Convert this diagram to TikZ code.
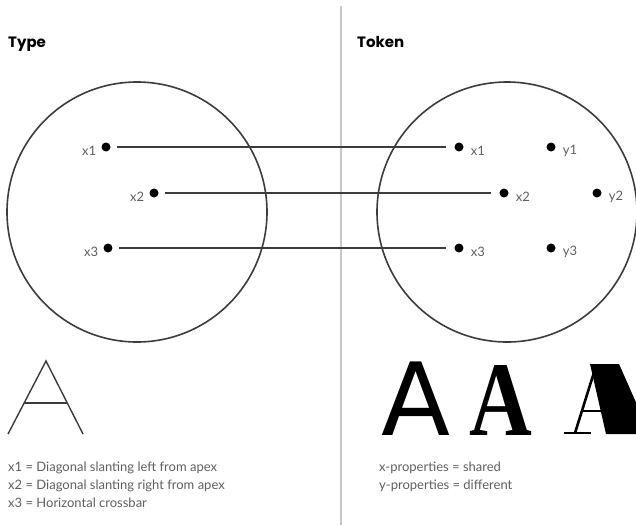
\documentclass[tikz,border=0pt]{standalone}
\usepackage{fontspec}
\setmainfont{Lato}
\newfontfamily\headfont{Poppins}
\newfontfamily\sansglyph{DejaVu Sans}
\newfontfamily\serifglyph{Liberation Serif}
\usepackage{tikz}
\usetikzlibrary{positioning}
\definecolor{mydark}{RGB}{60,60,60}
\definecolor{mygrey}{RGB}{95,95,95}
\definecolor{myrule}{RGB}{200,200,200}
\tikzset{
  setcircle/.style={draw=mydark, line width=1.6pt},
  dot/.style={circle, fill=black, inner sep=0pt, minimum size=9pt},
  lbl/.style={text=mygrey, font=\fontsize{13}{15}\selectfont, inner sep=0pt},
  link/.style={draw=mydark, line width=1.7pt, shorten <=6pt, shorten >=8pt},
  heading/.style={font=\headfont\bfseries\fontsize{15}{17}\selectfont, anchor=base west, inner sep=0pt},
  note/.style={text=mygrey, font=\fontsize{13}{18}\selectfont, align=left,
    anchor=north west, inner sep=0pt},
  bigA/.style={anchor=base, inner sep=0pt}
}

\begin{document}
\begin{tikzpicture}[x=1pt, y=-1pt]
  \useasboundingbox[fill=white] (0,0) rectangle (636,525);
  % divider
  \draw[myrule, line width=2pt] (341,6) -- (341,525);
  % headings
  \node[heading] (type) at (8,47) {Type};
  \node[heading] (token) at (357,47) {Token};
  % the two sets
  \draw[setcircle] (137,212) circle (130);
  \draw[setcircle] (507,212) circle (130);
  % type side
  \node[dot] (tx1) at (106,147) {};
  \node[dot] (tx2) at (154,193) {};
  \node[dot] (tx3) at (108,248) {};
  \node[lbl, left=5pt of tx1, yshift=-4pt] {x1};
  \node[lbl, left=5pt of tx2, yshift=-4pt] {x2};
  \node[lbl, left=5pt of tx3, yshift=-4pt] {x3};
  % token side
  \node[dot] (kx1) at (459,147) {};
  \node[dot] (kx2) at (504,193) {};
  \node[dot] (kx3) at (459,248) {};
  \node[dot] (ky1) at (551,147) {};
  \node[dot] (ky2) at (597,193) {};
  \node[dot] (ky3) at (551,248) {};
  \node[lbl, right=7pt of kx1, yshift=-4pt] {x1};
  \node[lbl, right=7pt of kx2, yshift=-4pt] {x2};
  \node[lbl, right=7pt of kx3, yshift=-4pt] {x3};
  \node[lbl, right=7pt of ky1, yshift=-4pt] {y1};
  \node[lbl, right=7pt of ky2, yshift=-4pt] {y2};
  \node[lbl, right=7pt of ky3, yshift=-4pt] {y3};
  % shared x-properties
  \draw[link] (tx1) -- (kx1);
  \draw[link] (tx2) -- (kx2);
  \draw[link] (tx3) -- (kx3);
  % skeleton A
  \draw[mydark, line width=1.4pt] (8,434) -- (46,361) -- (83,434);
  \draw[mydark, line width=1.4pt] (24,403) -- (67,403);
  % token glyphs
  \node[bigA, font=\sansglyph\fontsize{101}{101}\selectfont] (a1) at (416,435) {A};
  \node[bigA, font=\serifglyph\bfseries\fontsize{106}{106}\selectfont] (a2) at (501,435) {\scalebox{0.82}[1]{A}};
  \draw[line width=2.6pt] (596,366) -- (575,433);
  \draw[line width=2pt] (564,433) -- (591,433);
  \draw[line width=1.8pt] (583,411) -- (605,411);
  \fill (590,364) -- (619,364) -- (650,434) -- (606,434) -- cycle;
  % notes
  \node[note] (tnote) at (8,462) {x1 = Diagonal slanting left from apex\\
    x2 = Diagonal slanting right from apex\\x3 = Horizontal crossbar};
  \node[note] (knote) at (379,462) {x-properties = shared\\y-properties = different};
\end{tikzpicture}
\end{document}
